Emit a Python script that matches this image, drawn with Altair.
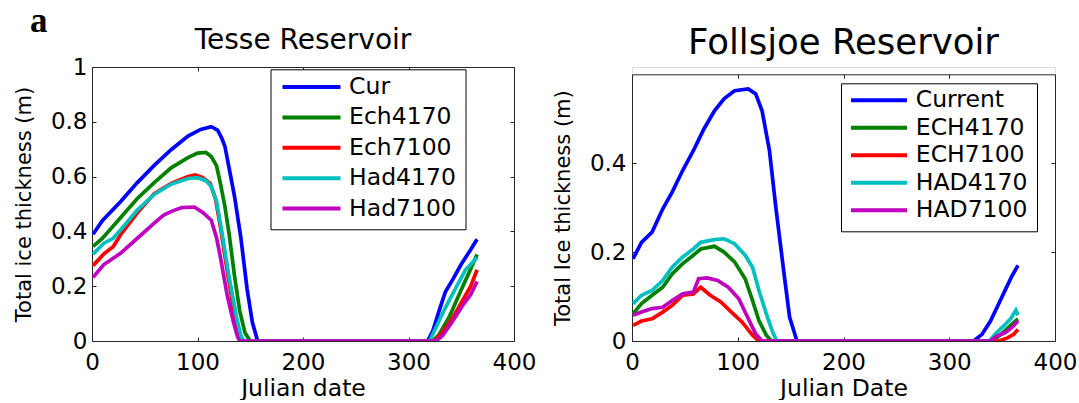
import altair as alt
import pandas as pd

FONT = "DejaVu Sans"
AX = "#262626"
COLORS = ["#0000ff", "#008000", "#ff0000", "#00bfbf", "#bf00bf"]
XTICKS = [0, 100, 200, 300, 400]
XTICKS_IN = [100, 200, 300]

# ---------------- Tesse Reservoir ----------------
tesse_names = ["Cur", "Ech4170", "Ech7100", "Had4170", "Had7100"]
tesse_cur_day = [1, 10, 27, 43, 59, 75, 91, 103, 113, 119, 123, 126, 130, 135, 141, 147, 152, 157,
                 318, 323, 329, 335, 342, 350, 358, 365]
tesse_cur_val = [0.39, 0.44, 0.508, 0.578, 0.641, 0.698, 0.748, 0.772, 0.782, 0.77, 0.74, 0.71, 0.63, 0.53, 0.38, 0.19, 0.068, 0.0,
                 0.0, 0.036, 0.11, 0.18, 0.225, 0.28, 0.328, 0.371]
tesse_e41_day = [1, 10, 27, 43, 59, 75, 91, 100, 108, 113, 118, 122, 126, 130, 135, 140, 145, 150,
                 323, 329, 339, 348, 358, 365]
tesse_e41_val = [0.345, 0.375, 0.45, 0.52, 0.578, 0.632, 0.669, 0.686, 0.688, 0.673, 0.64, 0.57, 0.49, 0.39, 0.24, 0.11, 0.03, 0.0,
                 0.0, 0.024, 0.091, 0.17, 0.255, 0.316]
tesse_e71_day = [1, 11, 20, 27, 43, 59, 75, 91, 98, 105, 112, 117, 122, 128, 134, 139, 143,
                 324, 332, 342, 351, 359, 365]
tesse_e71_val = [0.275, 0.317, 0.344, 0.387, 0.468, 0.538, 0.575, 0.6, 0.606, 0.596, 0.575, 0.52, 0.41, 0.26, 0.12, 0.03, 0.0,
                 0.0, 0.03, 0.085, 0.146, 0.2, 0.26]
tesse_h41_day = [1, 11, 20, 27, 43, 59, 75, 91, 100, 108, 113, 118, 123, 130, 137, 141, 144,
                 320, 326, 335, 345, 354, 365]
tesse_h41_val = [0.317, 0.356, 0.375, 0.405, 0.478, 0.535, 0.572, 0.593, 0.596, 0.585, 0.565, 0.51, 0.40, 0.232, 0.087, 0.02, 0.0,
                 0.0, 0.049, 0.122, 0.195, 0.26, 0.305]
tesse_h71_day = [1, 11, 27, 43, 59, 68, 76, 85, 97, 105, 113, 118, 122, 128, 134, 138, 140,
                 326, 332, 342, 351, 359, 365]
tesse_h71_val = [0.232, 0.278, 0.32, 0.375, 0.43, 0.46, 0.474, 0.487, 0.489, 0.469, 0.441, 0.378, 0.30, 0.17, 0.07, 0.015, 0.0,
                 0.0, 0.018, 0.073, 0.128, 0.17, 0.217]

# ---------------- Follsjoe Reservoir ----------------
foll_names = ["Current", "ECH4170", "ECH7100", "HAD4170", "HAD7100"]
foll_cur_day = [1, 9, 19, 29, 38, 48, 58, 68, 78, 87, 97, 110, 117, 123, 130, 136, 143, 149, 156,
                323, 331, 339, 347, 353, 359, 365]
foll_cur_val = [0.185, 0.222, 0.245, 0.297, 0.335, 0.384, 0.428, 0.477, 0.518, 0.545, 0.563, 0.567, 0.556, 0.518, 0.428, 0.301, 0.166, 0.054, 0.0,
                0.0, 0.015, 0.045, 0.085, 0.115, 0.145, 0.17]
foll_e41_day = [1, 9, 19, 29, 38, 48, 58, 65, 78, 87, 97, 107, 114, 120, 127, 132,
                341, 350, 358, 365]
foll_e41_val = [0.061, 0.084, 0.103, 0.121, 0.151, 0.174, 0.193, 0.207, 0.213, 0.2, 0.178, 0.14, 0.091, 0.046, 0.013, 0.0,
                0.0, 0.017, 0.035, 0.05]
foll_e71_day = [1, 9, 19, 29, 38, 48, 58, 65, 74, 84, 94, 104, 114, 120,
                347, 355, 361, 365]
foll_e71_val = [0.035, 0.045, 0.05, 0.065, 0.08, 0.103, 0.106, 0.121, 0.103, 0.088, 0.065, 0.043, 0.013, 0.0,
                0.0, 0.007, 0.015, 0.026]
foll_h41_day = [1, 9, 19, 29, 38, 48, 58, 65, 78, 87, 97, 107, 114, 120, 127, 133, 137,
                338, 344, 352, 358, 363, 365]
foll_h41_val = [0.084, 0.103, 0.114, 0.136, 0.166, 0.189, 0.207, 0.222, 0.228, 0.23, 0.219, 0.193, 0.166, 0.114, 0.061, 0.02, 0.0,
                0.0, 0.017, 0.035, 0.05, 0.069, 0.058]
foll_h71_day = [1, 9, 19, 29, 38, 48, 58, 63, 71, 81, 91, 101, 110, 117, 123,
                339, 345, 353, 359, 365]
foll_h71_val = [0.058, 0.065, 0.073, 0.076, 0.091, 0.106, 0.11, 0.14, 0.142, 0.136, 0.121, 0.095, 0.05, 0.016, 0.0,
                0.0, 0.011, 0.019, 0.03, 0.045]


def make_df(names, days, vals):
    rows = []
    for n, ds, vs in zip(names, days, vals):
        for d, v in zip(ds, vs):
            rows.append({"series": n, "day": d, "ice": v})
    return pd.DataFrame(rows)


tesse_df = make_df(tesse_names,
                   [tesse_cur_day, tesse_e41_day, tesse_e71_day, tesse_h41_day, tesse_h71_day],
                   [tesse_cur_val, tesse_e41_val, tesse_e71_val, tesse_h41_val, tesse_h71_val])
foll_df = make_df(foll_names,
                  [foll_cur_day, foll_e41_day, foll_e71_day, foll_h41_day, foll_h71_day],
                  [foll_cur_val, foll_e41_val, foll_e71_val, foll_h41_val, foll_h71_val])


def frame_axis(orient, offset, values=None, ticks=False, domain=True):
    kw = dict(orient=orient, offset=offset, domain=domain, ticks=ticks, labels=False, grid=False,
              title=None, domainColor=AX, domainWidth=1, tickColor=AX, tickSize=4, tickWidth=1)
    if values is not None:
        kw["values"] = values
    return alt.Axis(**kw)


def panel(df, names, title, tsize, toffset, xtitle, ytitle, ydomain, yticks, yticks_in,
          w, h, ytop, lx, ly, lpad, lsym, lclip, lrow, lsymoff, llaboff, ylabpad):
    xs = alt.Scale(domain=[0, 400], nice=False, zero=False)
    ys = alt.Scale(domain=ydomain, range=[h, ytop], nice=False, zero=False)
    base = alt.Chart(df)
    lines = base.mark_line(strokeWidth=3.7, clip=True).encode(
        x=alt.X("day:Q", scale=xs, axis=alt.Axis(
            orient="bottom", values=XTICKS, offset=-4, tickSize=4, tickColor=AX, domain=False,
            grid=False, labelFont=FONT, labelFontSize=23, labelColor="black", labelPadding=10,
            labelFlush=False, title=xtitle, titleFont=FONT, titleFontSize=23.5, titleFontWeight="normal",
            titleColor="black", titlePadding=2)),
        y=alt.Y("ice:Q", scale=ys, axis=alt.Axis(
            orient="left", values=yticks, offset=-4, tickSize=4, tickColor=AX, domain=False,
            grid=False, format="~g", labelFont=FONT, labelFontSize=23, labelColor="black",
            labelPadding=ylabpad, labelFlush=False, title=ytitle, titleFont=FONT, titleFontSize=21,
            titleFontWeight="normal", titleColor="black", titlePadding=16)),
        color=alt.Color("series:N", scale=alt.Scale(domain=names, range=COLORS), legend=alt.Legend(
            title=None, orient="none", legendX=lx, legendY=ly, direction="vertical",
            symbolType="stroke", symbolSize=lsym * lsym, symbolStrokeWidth=4,
            labelFont=FONT, labelFontSize=23.5, labelColor="black", padding=lpad,
            strokeColor="black", fillColor="white", clipHeight=lclip, rowPadding=lrow,
            symbolOffset=lsymoff, labelOffset=llaboff)),
    )
    inner_ticks = base.mark_line(opacity=0).encode(
        x=alt.X("day:Q", scale=xs, axis=frame_axis("top", -(ytop + 4), XTICKS_IN, ticks=True, domain=False)),
        y=alt.Y("ice:Q", scale=ys, axis=frame_axis("right", -4, yticks_in, ticks=True, domain=False)),
        detail="series:N",
    )
    frame_bl = base.mark_line(opacity=0).encode(
        x=alt.X("day:Q", scale=xs, axis=frame_axis("bottom", 0)),
        y=alt.Y("ice:Q", scale=ys, axis=frame_axis("left", 0)),
        detail="series:N",
    )
    frame_tr = base.mark_line(opacity=0).encode(
        x=alt.X("day:Q", scale=xs, axis=frame_axis("top", -ytop)),
        y=alt.Y("ice:Q", scale=ys, axis=frame_axis("right", 0)),
        detail="series:N",
    )
    return alt.layer(lines, inner_ticks, frame_bl, frame_tr).resolve_axis(
        x="independent", y="independent").properties(
        width=w, height=h,
        title=alt.TitleParams(title, font=FONT, fontSize=tsize, fontWeight="normal", color="black",
                              anchor="middle", frame="group", baseline="alphabetic", offset=toffset),
    )


left = panel(tesse_df, tesse_names, "Tesse Reservoir", 28, -21, "Julian date", "Total ice thickness (m)",
             [0, 1], [0, 0.2, 0.4, 0.6, 0.8, 1], [0.2, 0.4, 0.6, 0.8],
             422, 274, 0, 178.5, 2.3, 9, 58, 17.4, 5.4, 1, 6.6, 5)
right = panel(foll_df, foll_names, "Follsjoe Reservoir", 35.5, -22.1, "Julian Date", "Total Ice thickness (m)",
              [0, 0.6], [0, 0.2, 0.4], [0.2, 0.4],
              423, 274, 7.3, 209, 16.3, 9, 56, 16, 3.5, -1, 6.8, 6)

chart = alt.hconcat(left, right, spacing=14).resolve_scale(color="independent").resolve_legend(
    color="independent").properties(
    title=alt.TitleParams("a", font="Liberation Serif", fontSize=35, fontWeight="bold", color="black",
                          anchor="start", frame="bounds", baseline="alphabetic", offset=-42.1, dx=17),
    padding={"left": 12, "top": 4, "right": 0, "bottom": 0},
).configure_view(strokeOpacity=0).configure(background="white")

chart.save("out.html", embed_options={"renderer": "svg", "actions": False})
